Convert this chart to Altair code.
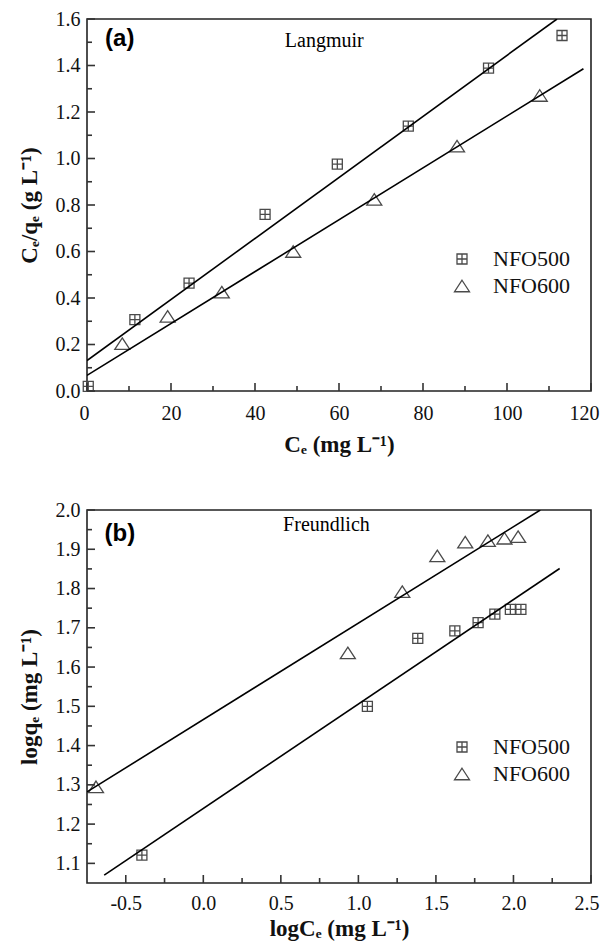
import altair as alt
import pandas as pd

# ---------------- data ----------------
series_names = ["NFO500", "NFO600"]

# (a) Langmuir: Ce vs Ce/qe
lang_500_x = [0.3, 11.4, 24.3, 42.4, 59.6, 76.5, 95.6, 113.1]
lang_500_y = [0.02, 0.307, 0.464, 0.76, 0.976, 1.139, 1.389, 1.529]
lang_600_x = [8.4, 19.2, 32.1, 49.1, 68.4, 88.1, 107.8]
lang_600_y = [0.204, 0.321, 0.425, 0.600, 0.824, 1.053, 1.271]
lang_fit_500_x = [0.0, 111.9]
lang_fit_500_y = [0.131, 1.6]
lang_fit_600_x = [0.0, 118.2]
lang_fit_600_y = [0.067, 1.386]

# (b) Freundlich: logCe vs logqe
fr_500_x = [-0.396, 1.058, 1.383, 1.622, 1.772, 1.880, 1.980, 2.048]
fr_500_y = [1.121, 1.500, 1.673, 1.692, 1.713, 1.735, 1.747, 1.747]
fr_600_x = [-0.692, 0.932, 1.283, 1.509, 1.689, 1.835, 1.942, 2.030]
fr_600_y = [1.295, 1.636, 1.792, 1.883, 1.918, 1.922, 1.928, 1.932]
fr_fit_500_x = [-0.639, 2.298]
fr_fit_500_y = [1.070, 1.851]
fr_fit_600_x = [-0.75, 2.173]
fr_fit_600_y = [1.282, 2.0]

# axes
lang_x_major = [0, 20, 40, 60, 80, 100, 120]
lang_x_minor = [10, 30, 50, 70, 90, 110]
lang_y_major = [0.0, 0.2, 0.4, 0.6, 0.8, 1.0, 1.2, 1.4, 1.6]
lang_y_minor = [0.1, 0.3, 0.5, 0.7, 0.9, 1.1, 1.3, 1.5]
fr_x_major = [-0.5, 0.0, 0.5, 1.0, 1.5, 2.0, 2.5]
fr_x_minor = [-0.25, 0.25, 0.75, 1.25, 1.75, 2.25]
fr_y_major = [1.1, 1.2, 1.3, 1.4, 1.5, 1.6, 1.7, 1.8, 1.9, 2.0]
fr_y_minor = [1.15, 1.25, 1.35, 1.45, 1.55, 1.65, 1.75, 1.85, 1.95]

# annotations
lang_tag = {"x": 4.3, "y": 1.514, "text": "(a)"}
lang_name = {"x": 56.5, "y": 1.507, "text": "Langmuir"}
fr_tag = {"x": -0.637, "y": 1.94, "text": "(b)"}
fr_name = {"x": 0.794, "y": 1.962, "text": "Freundlich"}

SQUARE_CROSS = "M-1,-1L1,-1L1,1L-1,1Z M0,-1L0,1 M-1,0L1,0"
TRIANGLE = "M0,-1.15L1.5,1.15L-1.5,1.15Z"
SERIF = "Liberation Serif"
SANS = "Liberation Sans"
W = 504
TICK_COLOR = "#333"
MARK_COLOR = "#4a4a4a"
MAJ_LEN = 8
MIN_LEN = 5


def frame(xs, ys, name):
    return pd.DataFrame({"x": xs, "y": ys, "series": name})


def panel(pts, fits, tag, name, xdom, ydom, xmaj, xmin, ymaj, ymin,
          xtitle, ytitle, xfmt_expr, h, legend_y, lab_pad, title_pad):
    xs = alt.Scale(domain=xdom, nice=False, zero=False)
    ys = alt.Scale(domain=ydom, nice=False, zero=False)

    main_x = alt.Axis(values=xmaj, labelExpr=xfmt_expr, ticks=False, domain=False,
                      title=xtitle, labelPadding=lab_pad, titlePadding=title_pad,
                      labelFlush=True, labelFlushOffset=8)
    main_y = alt.Axis(values=ymaj, format=".1f", ticks=False, domain=False,
                      title=ytitle, labelPadding=7, titlePadding=14, labelFlush=False)

    points = alt.Chart(pts).mark_point(filled=False, color=MARK_COLOR, strokeWidth=1.3,
                                       opacity=1, size=100).encode(
        x=alt.X("x:Q", scale=xs, axis=main_x),
        y=alt.Y("y:Q", scale=ys, axis=main_y),
        shape=alt.Shape("series:N",
                        scale=alt.Scale(domain=series_names, range=[SQUARE_CROSS, TRIANGLE]),
                        legend=alt.Legend(orient="none", legendX=364, legendY=legend_y, title=None,
                                          labelFont=SERIF, labelFontSize=22, labelColor="#111",
                                          symbolSize=100, symbolStrokeWidth=1.3,
                                          symbolStrokeColor=MARK_COLOR, symbolFillColor="transparent",
                                          labelOffset=20, rowPadding=5, padding=0)),
    )
    lines = alt.Chart(fits).mark_line(color="black", strokeWidth=1.6, clip=True).encode(
        x=alt.X("x:Q", scale=xs),
        y=alt.Y("y:Q", scale=ys),
        detail="series:N",
    )
    # inward ticks (major and minor) on the bottom and left edges
    xmaj_df = pd.DataFrame({"x": xmaj})
    xmin_df = pd.DataFrame({"x": xmin})
    ymaj_df = pd.DataFrame({"y": ymaj})
    ymin_df = pd.DataFrame({"y": ymin})
    tx_maj = alt.Chart(xmaj_df).mark_tick(color=TICK_COLOR, thickness=1.6, size=MAJ_LEN, opacity=1,
                                          orient="vertical").encode(
        x=alt.X("x:Q", scale=xs), y=alt.value(h - MAJ_LEN / 2))
    tx_min = alt.Chart(xmin_df).mark_tick(color=TICK_COLOR, thickness=1.6, size=MIN_LEN, opacity=1,
                                          orient="vertical").encode(
        x=alt.X("x:Q", scale=xs), y=alt.value(h - MIN_LEN / 2))
    ty_maj = alt.Chart(ymaj_df).mark_tick(color=TICK_COLOR, thickness=1.6, size=MAJ_LEN, opacity=1,
                                          orient="horizontal").encode(
        y=alt.Y("y:Q", scale=ys), x=alt.value(MAJ_LEN / 2))
    ty_min = alt.Chart(ymin_df).mark_tick(color=TICK_COLOR, thickness=1.6, size=MIN_LEN, opacity=1,
                                          orient="horizontal").encode(
        y=alt.Y("y:Q", scale=ys), x=alt.value(MIN_LEN / 2))

    tag_text = alt.Chart(pd.DataFrame([tag])).mark_text(
        font=SANS, fontSize=24, fontWeight="bold", align="left",
        baseline="middle", color="black").encode(
        x=alt.X("x:Q", scale=xs), y=alt.Y("y:Q", scale=ys), text="text:N")
    name_text = alt.Chart(pd.DataFrame([name])).mark_text(
        font=SERIF, fontSize=20, align="center", baseline="middle", color="black").encode(
        x=alt.X("x:Q", scale=xs), y=alt.Y("y:Q", scale=ys), text="text:N")
    return alt.layer(points, lines, tx_maj, tx_min, ty_maj, ty_min, tag_text, name_text
                     ).properties(width=W, height=h)


lang_pts = pd.concat([frame(lang_500_x, lang_500_y, "NFO500"), frame(lang_600_x, lang_600_y, "NFO600")])
lang_fit = pd.concat([frame(lang_fit_500_x, lang_fit_500_y, "NFO500"),
                      frame(lang_fit_600_x, lang_fit_600_y, "NFO600")])
fr_pts = pd.concat([frame(fr_500_x, fr_500_y, "NFO500"), frame(fr_600_x, fr_600_y, "NFO600")])
fr_fit = pd.concat([frame(fr_fit_500_x, fr_fit_500_y, "NFO500"),
                    frame(fr_fit_600_x, fr_fit_600_y, "NFO600")])

top = panel(lang_pts, lang_fit, lang_tag, lang_name, [0, 120], [0, 1.6],
            lang_x_major, lang_x_minor, lang_y_major, lang_y_minor,
            "Cₑ (mg L⁻¹)", "Cₑ/qₑ (g L⁻¹)", "format(datum.value, 'd')", 372, 229, 12, 10)
bottom = panel(fr_pts, fr_fit, fr_tag, fr_name, [-0.75, 2.5], [1.05, 2.0],
               fr_x_major, fr_x_minor, fr_y_major, fr_y_minor,
               "logCₑ (mg L⁻¹)", "logqₑ (mg L⁻¹)",
               "replace(format(datum.value, '.1f'), '\u2212', '-')", 373, 226, 10, 4)

chart = alt.vconcat(top, bottom, spacing=42).resolve_scale(shape="independent") \
    .resolve_legend(shape="independent").properties(
        padding={"left": 9, "top": 0, "right": 0, "bottom": 0}
    ).configure_view(stroke="#222", strokeWidth=1.6).configure_axis(
        grid=False, labelFont=SERIF, labelFontSize=20, labelColor="#111",
        titleFont=SERIF, titleFontSize=23, titleFontWeight="bold", titleColor="#111")

chart.save("out.html", embed_options={"renderer": "svg", "actions": False})
